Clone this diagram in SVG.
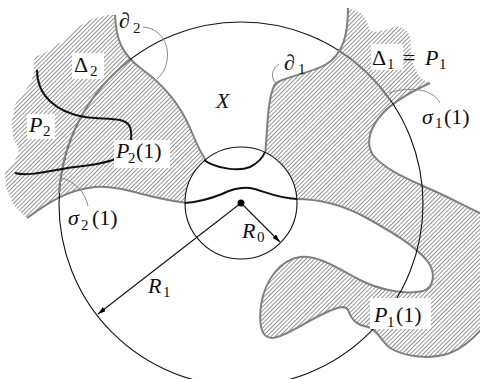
<svg xmlns="http://www.w3.org/2000/svg" width="480" height="379" viewBox="0 0 480 379">
<defs>
<pattern id="hatch" patternUnits="userSpaceOnUse" width="3" height="3" patternTransform="rotate(45)">
<line x1="0.5" y1="-1" x2="0.5" y2="4" stroke="#777" stroke-width="0.8"/>
</pattern>
<marker id="arr" viewBox="0 0 8 5" refX="8" refY="2.5" markerWidth="8" markerHeight="5" markerUnits="userSpaceOnUse" orient="auto">
<path d="M0,0 L8,2.5 L0,5 Z" fill="#000"/>
</marker>
<style>
.hatch{fill:url(#hatch);stroke:none}
.bnd{fill:none;stroke:#808080;stroke-width:2}
.lead{fill:none;stroke:#8a8a8a;stroke-width:1}
.blk{fill:none;stroke:#111;stroke-width:2}
.thin{fill:none;stroke:#111;stroke-width:1.1}
.bg{fill:#fff;stroke:none}
.t{font-family:"Liberation Serif","DejaVu Serif",serif;font-size:22px;fill:#111}
.i{font-style:italic}
.s{font-size:15px}
</style>
</defs>
<rect width="480" height="379" fill="#fff"/>

<g id="regions">
<path id="delta2" class="hatch" d="M115,15 C116,40 122,55 143,70 C165,86 180,105 190,128 C196,143 200,152 204,160 L185,203 C150,200 125,185 95,187 C65,190 45,205 27,218 L20,212 Q12,205 10,196 Q4,188 6,180 Q3,172 8,168 Q14,165 16,158 Q20,152 18,146 Q12,140 13,132 Q10,122 14,114 Q13,104 20,98 Q26,90 30,84 Q34,76 34,68 Q32,60 37,56 Q44,54 50,50 Q56,44 62,42 Q66,36 72,33 Q76,26 84,24 Q92,18 100,17 Q108,14 115,15 Z"/>
<path id="delta1" class="hatch" d="M297,199 C320,198 345,206 365,217 C390,231 415,245 428,262 C436,273 434,288 423,291 C405,295 380,290 360,280 C340,270 320,255 300,257 C280,260 265,280 261,305 C259,322 260,338 272,338 C285,337 305,322 325,313 C335,308 345,304 348,310 C351,318 355,325 368,327 C378,330 380,340 390,348 C405,357 430,360 450,353 C465,347 475,337 483,327 L490,327 L490,213 L480,213 C465,206 450,198 430,189 C410,180 385,170 373,155 C365,143 370,127 383,113 C395,100 415,90 430,83 L424,80 Q418,76 416,70 Q412,64 412,56 Q410,48 411,42 Q410,34 406,30 Q400,26 394,27 Q386,30 380,31 Q372,34 369,28 Q366,18 362,14 Q356,10 348,8 C348,35 343,55 325,65 C310,73 285,77 276,83 C270,90 268,110 267,130 L265,152 Z"/>
</g>

<g id="boundaries">
<path id="d2" class="bnd" d="M115,15 C116,40 122,55 143,70 C165,86 180,105 190,128 C196,143 200,152 208,164"/>
<path id="low2" class="bnd" d="M27,218 C45,205 65,190 95,187 C125,185 150,200 190,203"/>
<path id="d1" class="bnd" d="M348,8 C348,35 343,55 325,65 C310,73 285,77 276,83 C270,90 268,110 267,130 L265,158"/>
<path id="conc" class="bnd" d="M430,83 C415,90 395,100 383,113 C370,127 365,143 373,155 C385,170 410,180 430,189 C450,198 465,206 482,214"/>
<path id="arm" class="bnd" d="M290,199 C320,198 345,206 365,217 C390,231 415,245 428,262 C436,273 434,288 423,291 C405,295 380,290 360,280 C340,270 320,255 300,257 C280,260 265,280 261,305 C259,322 260,338 272,338 C285,337 305,322 325,313 C335,308 345,304 348,310 C351,318 355,325 368,327 C378,330 380,340 390,348 C405,357 430,360 450,353 C465,347 475,337 484,326"/>
</g>

<g id="bigcircle">
<circle cx="241" cy="204" r="182" class="thin"/>
<path id="sigma2" class="bnd" d="M130,60 A182,182 0 0,0 59,193"/>
<path id="sigma1" class="bnd" d="M338,50 A182,182 0 0,1 390,100"/>
</g>

<g id="pathsP2">
<path class="blk" d="M37,70 C37,95 55,112 85,117 C105,120 125,116 130,127 C132,132 131,138 131,143"/>
<path class="blk" d="M15,173 C30,177 50,170 75,167 C95,165 105,163 116,159"/>
</g>

<g id="labelbg">
<rect class="bg" x="72" y="53" width="32" height="26"/>
<rect class="bg" x="27" y="114" width="28" height="25"/>
<rect class="bg" x="114" y="140" width="56" height="28"/>
<rect class="bg" x="370" y="298" width="61" height="31"/>
<rect class="bg" x="371" y="44" width="32" height="26"/>
</g>

<g id="smallcircle">
<circle cx="241" cy="203" r="56" fill="#fff" stroke="#111" stroke-width="1.1"/>
<path class="blk" d="M204,160 C215,168 238,172 250,167 C258,163 263,157 265,152"/>
<path class="blk" d="M185,203 C200,202 212,198 222,194 C232,189 240,187 250,188 C262,190 275,198 297,199"/>
</g>

<g id="connectors">
<line x1="241" y1="203" x2="98" y2="314" class="thin" marker-end="url(#arr)"/>
<line x1="241" y1="203" x2="280" y2="242" class="thin" marker-end="url(#arr)"/>
<circle cx="241" cy="203" r="3.5" fill="#000"/>
<path class="lead" d="M143,27 C160,28 172,45 166,65 C164,72 160,76 157,79"/>
<path class="lead" d="M279,64 C272,68 270,78 276,83"/>
<path class="lead" d="M389,93 C405,87 432,87 440,103"/>
<path class="lead" d="M62,178 C75,182 85,192 88,206"/>
</g>

<g id="labels">
<text class="t i" x="119" y="28">∂<tspan class="s" x="133" y="33" font-style="normal">2</tspan></text>
<text class="t" x="74" y="72">Δ<tspan class="s" x="90" y="76">2</tspan></text>
<text class="t i" x="216" y="108">X</text>
<text class="t i" x="29" y="132">P<tspan class="s" x="43" y="136" font-style="normal">2</tspan></text>
<text class="t i" x="116" y="158">P<tspan class="s" x="128" y="163" font-style="normal">2</tspan><tspan x="136" y="158" font-style="normal">(1)</tspan></text>
<text class="t i" x="284" y="70">∂<tspan class="s" x="298" y="74" font-style="normal">1</tspan></text>
<text class="t" x="372" y="65">Δ<tspan class="s" x="387" y="69">1</tspan><tspan x="403" y="65">=</tspan><tspan x="425" y="65" font-style="italic">P</tspan><tspan class="s" x="439" y="69">1</tspan></text>
<text class="t i" x="422" y="124">σ<tspan class="s" x="435" y="128" font-style="normal">1</tspan><tspan x="444" y="124" font-style="normal">(1)</tspan></text>
<text class="t i" x="68" y="225">σ<tspan class="s" x="81" y="230" font-style="normal">2</tspan><tspan x="92" y="225" font-style="normal">(1)</tspan></text>
<text class="t i" x="148" y="293">R<tspan class="s" x="163" y="297" font-style="normal">1</tspan></text>
<text class="t i" x="242" y="238">R<tspan class="s" x="257" y="242" font-style="normal">0</tspan></text>
<text class="t i" x="374" y="322">P<tspan class="s" x="387" y="327" font-style="normal">1</tspan><tspan x="396" y="322" font-style="normal">(1)</tspan></text>
</g>
</svg>
